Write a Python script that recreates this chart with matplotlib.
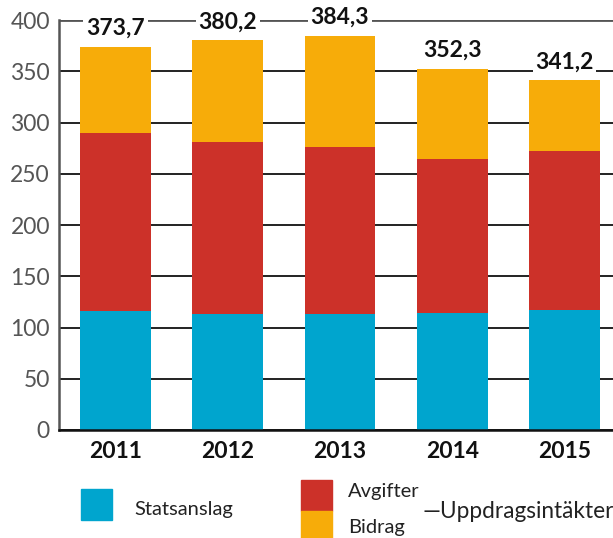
import matplotlib.pyplot as plt
from matplotlib.patches import Rectangle

years = ['2011', '2012', '2013', '2014', '2015']
statsanslag = [116.3, 113.6, 113.6, 114.3, 117.2]
avgifter = [173.7, 167.6, 162.7, 150.3, 155.2]
totals = [373.7, 380.2, 384.3, 352.3, 341.2]
total_labels = ['373,7', '380,2', '384,3', '352,3', '341,2']
bidrag = [t - s - a for t, s, a in zip(totals, statsanslag, avgifter)]

blue = '#00A5CE'
red = '#CC3129'
yellow = '#F7AC09'

plt.rcParams['font.family'] = ['Lato', 'DejaVu Sans']

fig = plt.figure(figsize=(6.13, 5.38), dpi=100)
ax = fig.add_axes([59 / 613, 1 - 430 / 538, 554 / 613, 410 / 538])

x = range(len(years))
w = 0.63
ax.bar(x, statsanslag, w, color=blue, zorder=2)
ax.bar(x, avgifter, w, bottom=statsanslag, color=red, zorder=2)
bottoms = [s + a for s, a in zip(statsanslag, avgifter)]
ax.bar(x, bidrag, w, bottom=bottoms, color=yellow, zorder=2)

for i, t in enumerate(totals):
    ax.text(i, t + 18, total_labels[i], ha='center', va='center', fontsize=16.5,
            fontweight='bold', color='#111111', zorder=4, clip_on=False,
            bbox=dict(facecolor='white', edgecolor='none', pad=2))

ax.set_xlim(-0.503, 4.432)
ax.set_ylim(0, 400)
ax.set_yticks(range(0, 401, 50))
ax.set_xticks(list(x))
ax.set_xticklabels(years, fontsize=16.5, fontweight='bold', color='#111111')
ax.tick_params(axis='x', length=0, pad=8)
ax.tick_params(axis='y', length=0, pad=6.5, labelsize=16.5, labelcolor='#555555')

ax.yaxis.grid(True, color='#222222', lw=1.4, zorder=1)
ax.get_ygridlines()[-1].set_color('#555555')
ax.get_ygridlines()[-1].set_linewidth(2)
ax.set_axisbelow(True)

for s in ['top', 'right']:
    ax.spines[s].set_visible(False)
ax.spines['left'].set_color('#555555')
ax.spines['left'].set_linewidth(1.8)
ax.spines['bottom'].set_color('#111111')
ax.spines['bottom'].set_linewidth(1.8)
ax.spines['bottom'].set_zorder(3)

# legend drawn by hand
def px(xp, yp):
    return xp / 613, 1 - yp / 538

for (x0, y0, x1, y1, c) in [(81, 489, 112, 520, blue),
                            (301, 480, 332, 511, red),
                            (301, 511, 332, 542, yellow)]:
    fx, fy = px(x0, y1)
    fig.patches.append(Rectangle((fx, fy), (x1 - x0) / 613, (y1 - y0) / 538,
                                 transform=fig.transFigure, color=c))

for txt, xp, yp, fs in [('Statsanslag', 134, 509, 14.5), ('Avgifter', 348, 492, 14.5),
                        ('Bidrag', 348, 527, 14.5), ('—Uppdragsintäkter', 423, 511, 16.3)]:
    fx, fy = px(xp, yp)
    fig.text(fx, fy, txt, ha='left', va='center', fontsize=fs, color='#222222')

fig.savefig('out.png', dpi=100)
